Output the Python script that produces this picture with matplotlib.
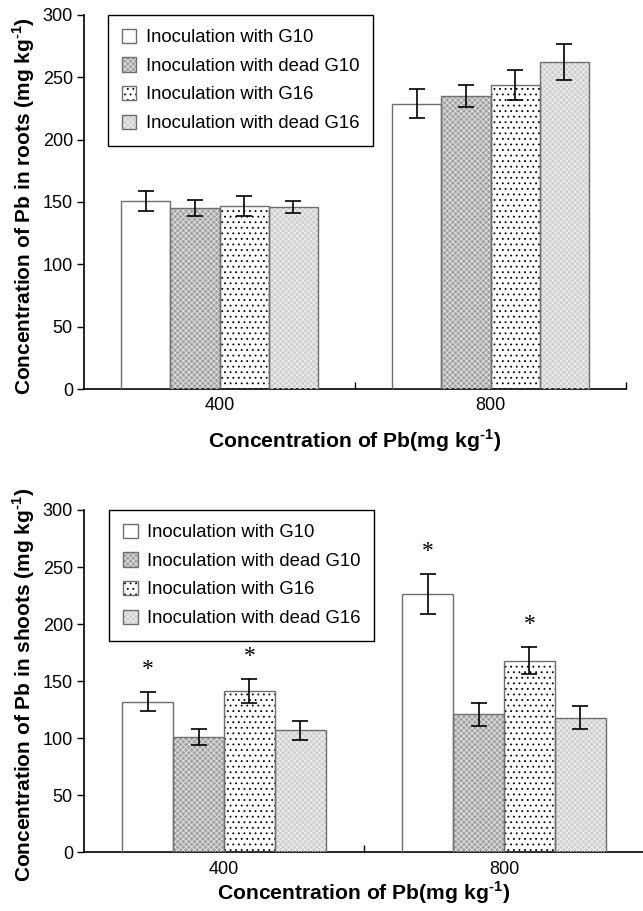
import matplotlib
matplotlib.use('Agg')
import matplotlib.pyplot as plt
from matplotlib.patches import Patch
from matplotlib.legend_handler import HandlerTuple
import numpy as np

# ---------------- data ----------------
categories = ['400', '800']
series = ['Inoculation with G10', 'Inoculation with dead G10',
          'Inoculation with G16', 'Inoculation with dead G16']

roots_G10 = [151, 229]
roots_deadG10 = [145, 235]
roots_G16 = [147, 244]
roots_deadG16 = [146, 262]
roots_err_G10 = [8, 11.5]
roots_err_deadG10 = [6.5, 9]
roots_err_G16 = [8, 12]
roots_err_deadG16 = [5, 14.5]

shoots_G10 = [132, 226]
shoots_deadG10 = [101, 121]
shoots_G16 = [141, 168]
shoots_deadG16 = [107, 118]
shoots_err_G10 = [8.5, 17.5]
shoots_err_deadG10 = [7, 10]
shoots_err_G16 = [10.5, 11.5]
shoots_err_deadG16 = [8.5, 10]
shoots_sig_G10 = [True, True]
shoots_sig_deadG10 = [False, False]
shoots_sig_G16 = [True, True]
shoots_sig_deadG16 = [False, False]

yticks = [0, 50, 100, 150, 200, 250, 300]
SUP = '$^{\\mathbf{\u20101}}$'
xlabel = 'Concentration of Pb(mg kg' + SUP + ')'
ylabel_roots = 'Concentration of Pb in roots (mg kg' + SUP + ')'
ylabel_shoots = 'Concentration of Pb in shoots (mg kg' + SUP + ')'

# ---------------- style ----------------
plt.rcParams['font.family'] = ['Liberation Sans', 'DejaVu Sans']
plt.rcParams['mathtext.fontset'] = 'custom'
plt.rcParams['mathtext.rm'] = 'Liberation Sans'
plt.rcParams['mathtext.bf'] = 'Liberation Sans:bold'
plt.rcParams['hatch.linewidth'] = 0.6

styles = [
    dict(face='white', hatch=None, hcolor=None),
    dict(face='#a2a2a2', hatch='xxxxxx', hcolor='#e4e4e4'),
    dict(face='white', hatch='...', hcolor='black'),
    dict(face='#cfcfcf', hatch='xxxxxx', hcolor='#efefef'),
]
EDGE = '#6e6e6e'

fig = plt.figure(figsize=(6.43, 9.11), dpi=100)
ax1 = fig.add_axes([84 / 643, 1 - 389 / 911, 542 / 643, 374 / 911])
ax2 = fig.add_axes([84 / 643, 1 - 852.3 / 911, 560 / 643, 342.3 / 911])


def make_handle(st):
    parts = [Patch(facecolor=st['face'], edgecolor='none')]
    if st['hatch']:
        parts.append(Patch(facecolor='none', edgecolor=st['hcolor'],
                           hatch=st['hatch'], linewidth=0))
    parts.append(Patch(facecolor='none', edgecolor=EDGE, linewidth=1.0))
    return tuple(parts)


def draw(ax, vals, errs, ylabel, sigs=None, leg_x=0.044):
    x = np.arange(len(categories))
    w = 0.182
    offsets = (np.arange(len(series)) - 1.5) * w
    for i, st in enumerate(styles):
        xs = x + offsets[i]
        ax.bar(xs, vals[i], w, color=st['face'], edgecolor='none', zorder=2)
        if st['hatch']:
            ax.bar(xs, vals[i], w, facecolor='none', edgecolor=st['hcolor'],
                   hatch=st['hatch'], linewidth=0, zorder=3)
        ax.bar(xs, vals[i], w, facecolor='none', edgecolor=EDGE,
               linewidth=1.0, zorder=4)
        ax.errorbar(xs, vals[i], yerr=errs[i], fmt='none', ecolor='black',
                    elinewidth=1.2, capsize=5.8, capthick=1.2, zorder=5)
        if sigs is not None:
            for j in range(len(categories)):
                if sigs[i][j]:
                    ax.text(xs[j], vals[i][j] + errs[i][j] + 20, '*',
                            ha='center', va='center', fontsize=17,
                            family='Liberation Serif', zorder=6)
    ax.set_xlim(-0.5, 1.5)
    ax.set_ylim(0, 300)
    ax.set_yticks(yticks)
    ax.set_xticks(x)
    ax.set_xticklabels(categories)
    ax.set_xticks([0.5, 1.5], minor=True)
    ax.tick_params(axis='x', which='major', length=0, pad=6, labelsize=13)
    ax.tick_params(axis='x', which='minor', direction='in', length=5, width=1)
    ax.tick_params(axis='y', direction='out', length=5, width=1, pad=3,
                   labelsize=13)
    for s in ['top', 'right']:
        ax.spines[s].set_visible(False)
    for s in ['left', 'bottom']:
        ax.spines[s].set_linewidth(1.2)
    ax.set_xlabel(xlabel, fontsize=15.2, fontweight='bold', va='center')
    ax.set_ylabel(ylabel, fontsize=15.0, fontweight='bold', va='center')
    handles = [make_handle(st) for st in styles]
    leg = ax.legend(handles, series, handler_map={tuple: HandlerTuple(ndivide=1)},
                    loc='upper left', bbox_to_anchor=(leg_x, 1.0),
                    frameon=True, fancybox=False, edgecolor='black',
                    framealpha=1, fontsize=13.3, handlelength=0.8,
                    handleheight=0.8, handletextpad=0.5, borderpad=0.75,
                    labelspacing=0.6, borderaxespad=0)
    leg.get_frame().set_linewidth(1.0)
    leg.set_zorder(10)


draw(ax1,
     [roots_G10, roots_deadG10, roots_G16, roots_deadG16],
     [roots_err_G10, roots_err_deadG10, roots_err_G16, roots_err_deadG16],
     ylabel_roots)
draw(ax2,
     [shoots_G10, shoots_deadG10, shoots_G16, shoots_deadG16],
     [shoots_err_G10, shoots_err_deadG10, shoots_err_G16, shoots_err_deadG16],
     ylabel_shoots,
     sigs=[shoots_sig_G10, shoots_sig_deadG10, shoots_sig_G16, shoots_sig_deadG16],
     leg_x=0.045)

ax1.xaxis.set_label_coords(0.5, -(441 - 389) / 374)
ax1.yaxis.set_label_coords(-(84 - 24) / 542, 0.49)
ax2.xaxis.set_label_coords(0.5, -(893 - 852.3) / 342.3)
ax2.yaxis.set_label_coords(-(84 - 24) / 560, 0.49)

fig.savefig('out.png', dpi=100)
